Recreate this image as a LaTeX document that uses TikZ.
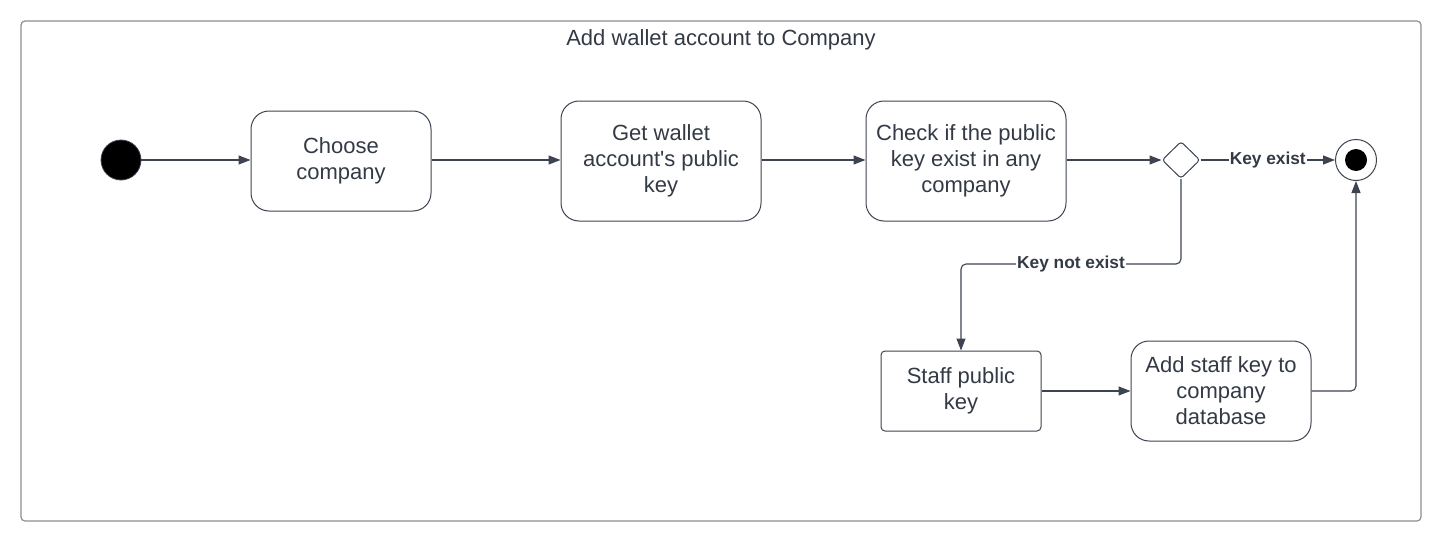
\documentclass[tikz,border=0pt]{standalone}
\usepackage{fontspec}
\setmainfont{Liberation Sans}
\usetikzlibrary{arrows.meta,shapes.geometric}
\definecolor{txt}{HTML}{333A45}
\definecolor{ln}{HTML}{3D4350}
\definecolor{frm}{HTML}{8A8D92}
\tikzset{
  state/.style={draw=ln, line width=1pt, rounded corners=18pt, align=center, text=txt,
    font=\fontsize{22}{26}\selectfont, inner sep=0pt},
  sqstate/.style={state, rounded corners=4pt},
  conn/.style={draw=ln, line width=1.1pt, -{Triangle[length=12pt,width=9pt]}},
  lbl/.style={fill=white, text=txt, font=\fontsize{17.3}{20}\selectfont\bfseries, inner sep=1pt},
}
\begin{document}
\begin{tikzpicture}[x=1pt,y=-1pt]
\useasboundingbox (0,0) rectangle (1441,541);
\draw[frm, line width=1.2pt, rounded corners=4pt] (21,21) rectangle (1421,521);
\node[text=txt, font=\fontsize{22}{26}\selectfont] (title) at (721,40) {Add wallet account to Company};

\node[circle, fill=black, draw=ln, line width=0.8pt, minimum size=40pt, inner sep=0pt] (start) at (121,160) {};
\node[state, minimum width=180pt, minimum height=100pt] (choose) at (341,161) {Choose\\company};
\node[state, minimum width=200pt, minimum height=120pt] (get) at (661,161) {Get wallet\\account\textquotesingle s public\\key};
\node[state, minimum width=200pt, minimum height=120pt] (check) at (966,161) {Check if the public\\key exist in any\\company};
\node[diamond, draw=ln, line width=1pt, rounded corners=3pt, minimum width=38pt, minimum height=37pt, inner sep=0pt, aspect=1] (dec) at (1181,160) {};
\node[circle, draw=ln, line width=1pt, minimum size=41pt, inner sep=0pt] (end) at (1356,160) {};
\node[circle, fill=black, minimum size=22pt, inner sep=0pt] (endin) at (1356,160) {};
\node[sqstate, minimum width=160pt, minimum height=80pt] (staff) at (961,391) {Staff public\\key};
\node[state, minimum width=180pt, minimum height=100pt] (add) at (1221,391) {Add staff key to\\company\\database};

\draw[conn] (start) -- (choose.west |- start);
\draw[conn] (choose.east |- start) -- (get.west |- start);
\draw[conn] (get.east |- start) -- (check.west |- start);
\draw[conn] (check.east |- dec) -- (dec.west);
\draw[conn] (dec.east) -- node[lbl] {Key exist} (end.west);
\coordinate (c1) at (1181,264);
\coordinate (c2) at (961,264);
\draw[conn, rounded corners=5pt] (dec.south) -- (c1) -- node[lbl] {Key not exist} (c2) -- (staff.north);
\draw[conn] (staff.east) -- (add.west |- staff.east);
\coordinate (c3) at (1356,391);
\draw[conn, rounded corners=5pt] (add.east) -- (c3) -- (end.south);
\end{tikzpicture}
\end{document}
